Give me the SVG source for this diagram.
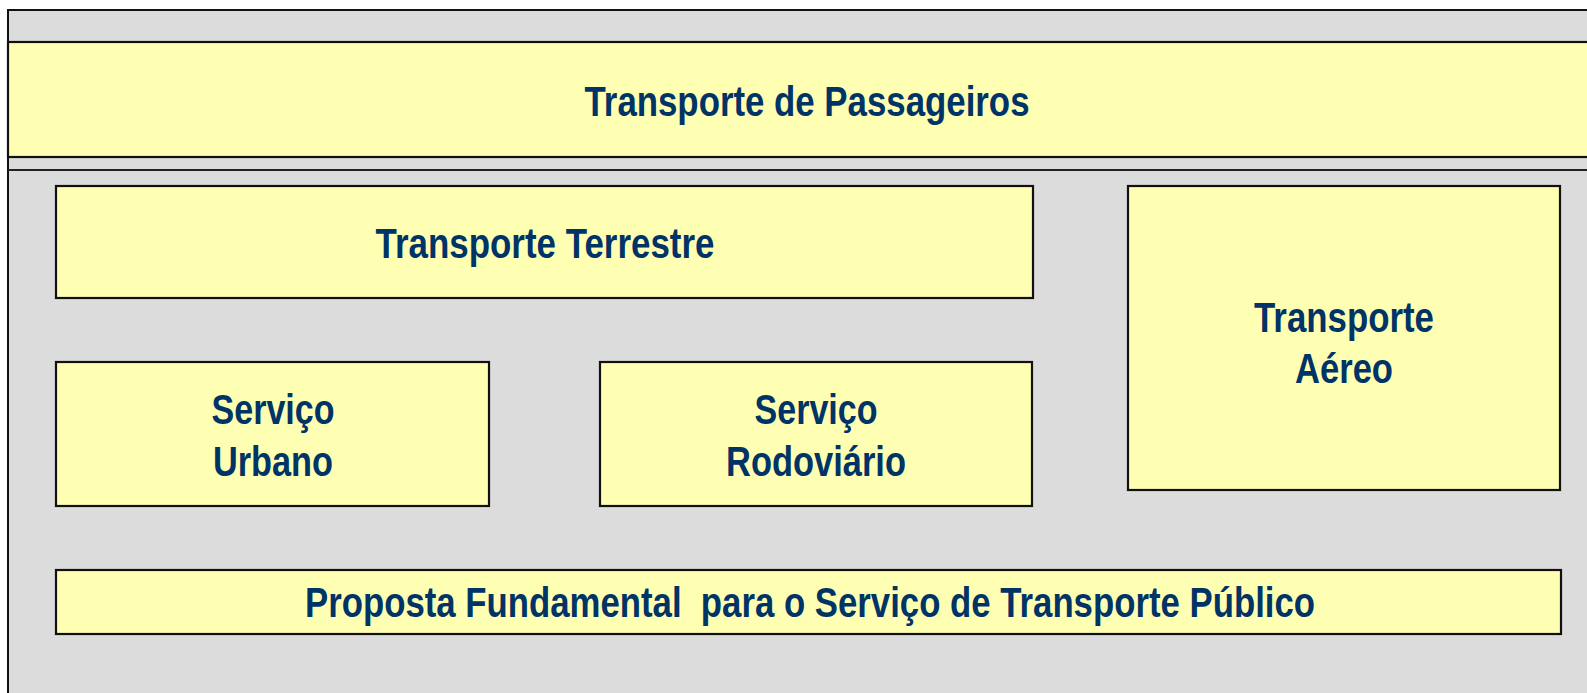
<svg xmlns="http://www.w3.org/2000/svg" width="1587" height="693" viewBox="0 0 1587 693">
  <style>
    .frame { fill: #dcdcdc; stroke: #111; stroke-width: 2; }
    .box { fill: #ffffb4; stroke: #111; stroke-width: 2.2; }
    .line { stroke: #222; stroke-width: 2; fill: none; }
    .lbl { font-family: "Liberation Sans Narrow", "Arial Narrow", "Liberation Sans", Arial, sans-serif; font-weight: bold; font-size: 42px; fill: #003366; text-anchor: middle; }
  </style>
  <rect width="1587" height="693" fill="#ffffff"/>
  <rect class="frame" x="8" y="10" width="1600" height="700"/>
  <g id="passageiros">
    <rect class="box" x="8" y="42" width="1600" height="115"/>
    <text class="lbl" x="807" y="116" textLength="445" lengthAdjust="spacingAndGlyphs">Transporte de Passageiros</text>
  </g>
  <line class="line" x1="8" y1="170" x2="1587" y2="170"/>
  <g id="terrestre">
    <rect class="box" x="56" y="186" width="977" height="112"/>
    <text class="lbl" x="545" y="258" textLength="339" lengthAdjust="spacingAndGlyphs">Transporte Terrestre</text>
  </g>
  <g id="aereo">
    <rect class="box" x="1128" y="186" width="432" height="304"/>
    <text class="lbl" x="1344" y="332" textLength="180" lengthAdjust="spacingAndGlyphs">Transporte</text>
    <text class="lbl" x="1344" y="383" textLength="98" lengthAdjust="spacingAndGlyphs">Aéreo</text>
  </g>
  <g id="urbano">
    <rect class="box" x="56" y="362" width="433" height="144"/>
    <text class="lbl" x="273" y="424" textLength="123" lengthAdjust="spacingAndGlyphs">Serviço</text>
    <text class="lbl" x="273" y="476" textLength="120" lengthAdjust="spacingAndGlyphs">Urbano</text>
  </g>
  <g id="rodoviario">
    <rect class="box" x="600" y="362" width="432" height="144"/>
    <text class="lbl" x="816" y="424" textLength="123" lengthAdjust="spacingAndGlyphs">Serviço</text>
    <text class="lbl" x="816" y="476" textLength="180" lengthAdjust="spacingAndGlyphs">Rodoviário</text>
  </g>
  <g id="proposta">
    <rect class="box" x="56" y="570" width="1505" height="64"/>
    <text class="lbl" x="810" y="617" xml:space="preserve" textLength="1010" lengthAdjust="spacingAndGlyphs">Proposta Fundamental  para o Serviço de Transporte Público</text>
  </g>
  <g id="connectors"></g>
</svg>
